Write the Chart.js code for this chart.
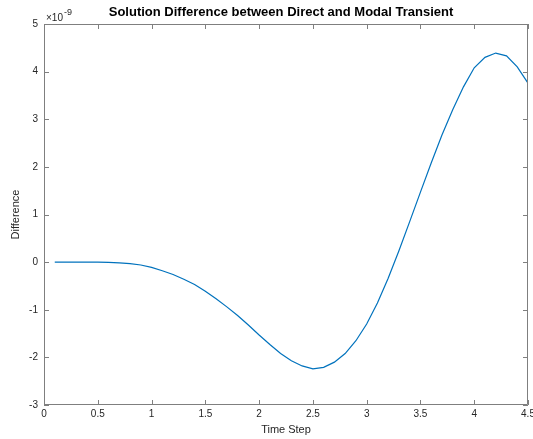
<!DOCTYPE html>
<html>
<head>
<meta charset="utf-8">
<script src="https://cdn.jsdelivr.net/npm/chart.js@4/dist/chart.umd.min.js"></script>
<style>
  html, body { margin: 0; padding: 0; background: #ffffff; }
  #wrap { width: 533px; height: 439px; position: relative; }
</style>
</head>
<body>
<div id="wrap"><canvas id="diff-chart"></canvas></div>
<script>
// time steps (s) and difference values in units of 1e-9
const timeSteps = [
  0.1, 0.2, 0.3, 0.4, 0.5, 0.6, 0.7, 0.8, 0.9, 1.0,
  1.1, 1.2, 1.3, 1.4, 1.5, 1.6, 1.7, 1.8, 1.9, 2.0,
  2.1, 2.2, 2.3, 2.4, 2.5, 2.6, 2.7, 2.8, 2.9, 3.0,
  3.1, 3.2, 3.3, 3.4, 3.5, 3.6, 3.7, 3.8, 3.9, 4.0,
  4.1, 4.2, 4.3, 4.4, 4.5,
];
const differences = [
  0, 0, 0, 0, -0.002, -0.006, -0.014, -0.03, -0.06, -0.11,
  -0.18, -0.26, -0.36, -0.47, -0.61, -0.77, -0.94, -1.12, -1.32, -1.53,
  -1.73, -1.92, -2.07, -2.18, -2.24, -2.21, -2.10, -1.92, -1.65, -1.30,
  -0.86, -0.34, 0.24, 0.85, 1.47, 2.08, 2.67, 3.20, 3.68, 4.08,
  4.30, 4.39, 4.33, 4.10, 3.76,
];
const xTicks = [0, 0.5, 1, 1.5, 2, 2.5, 3, 3.5, 4, 4.5];
const yTicks = [-3, -2, -1, 0, 1, 2, 3, 4, 5];

const chartTitle = 'Solution Difference between Direct and Modal Transient';
const xLabel = 'Time Step';
const yLabel = 'Difference';

const FONT = "'Liberation Sans', Arial, sans-serif";
const AXIS_COLOR = '#7f7f7f';
const TEXT_COLOR = '#262626';

// MATLAB style box with inward ticks, title and exponent label
const matlabFrame = {
  id: 'matlabFrame',
  afterDatasetsDraw(chart) {
    const { ctx, chartArea: area, scales } = chart;
    const tickLen = 5;
    ctx.save();
    ctx.strokeStyle = AXIS_COLOR;
    ctx.lineWidth = 1;
    ctx.beginPath();
    ctx.rect(area.left + 0.5, area.top + 0.5, area.right - area.left - 1, area.bottom - area.top - 1);
    xTicks.forEach((value) => {
      const px = Math.round(scales.x.getPixelForValue(value)) + 0.5;
      ctx.moveTo(px, area.bottom);
      ctx.lineTo(px, area.bottom - tickLen);
      ctx.moveTo(px, area.top);
      ctx.lineTo(px, area.top + tickLen);
    });
    yTicks.forEach((value) => {
      const py = Math.round(scales.y.getPixelForValue(value)) + 0.5;
      ctx.moveTo(area.left, py);
      ctx.lineTo(area.left + tickLen, py);
      ctx.moveTo(area.right, py);
      ctx.lineTo(area.right - tickLen, py);
    });
    ctx.stroke();

    ctx.fillStyle = '#000000';
    ctx.font = `bold 13px ${FONT}`;
    ctx.textAlign = 'center';
    ctx.textBaseline = 'middle';
    ctx.fillText(chartTitle, (area.left + area.right) / 2 - 5, 12);

    ctx.fillStyle = TEXT_COLOR;
    ctx.textAlign = 'left';
    ctx.textBaseline = 'alphabetic';
    ctx.font = `10px ${FONT}`;
    ctx.fillText('\u00d710', area.left + 2, area.top - 3);
    const w = ctx.measureText('\u00d710').width;
    ctx.font = `9px ${FONT}`;
    ctx.fillText('-9', area.left + 3 + w, area.top - 9);
    ctx.restore();
  },
};

new Chart(document.getElementById('diff-chart'), {
  type: 'line',
  data: {
    datasets: [
      {
        label: yLabel,
        data: timeSteps.map((t, i) => ({ x: t, y: differences[i] })),
        borderColor: '#0072bd',
        borderWidth: 1.2,
        pointRadius: 0,
        tension: 0,
        fill: false,
      },
    ],
  },
  options: {
    responsive: true,
    maintainAspectRatio: false,
    animation: false,
    layout: {
      padding: { top: 24, right: 5, left: 0, bottom: 0 },
    },
    plugins: {
      legend: { display: false },
      tooltip: { enabled: false },
    },
    scales: {
      x: {
        type: 'linear',
        min: 0,
        max: 4.5,
        afterFit(scale) {
          scale.height = 34;
          scale.paddingLeft = 0;
          scale.paddingRight = 0;
        },
        afterBuildTicks(scale) { scale.ticks = xTicks.map((value) => ({ value })); },
        grid: { display: false, drawTicks: false },
        border: { display: false },
        ticks: {
          padding: 3,
          color: TEXT_COLOR,
          font: { family: FONT, size: 10 },
          maxRotation: 0,
          autoSkip: false,
          callback(value) { return String(value); },
        },
        title: {
          display: true,
          text: xLabel,
          color: TEXT_COLOR,
          font: { family: FONT, size: 11 },
          padding: { top: 0, bottom: 2 },
        },
      },
      y: {
        type: 'linear',
        min: -3,
        max: 5,
        afterFit(scale) {
          scale.width = 44;
          scale.paddingTop = 0;
          scale.paddingBottom = 0;
        },
        afterBuildTicks(scale) { scale.ticks = yTicks.map((value) => ({ value })); },
        grid: { display: false, drawTicks: false },
        border: { display: false },
        ticks: {
          padding: 6,
          color: TEXT_COLOR,
          font: { family: FONT, size: 10 },
          autoSkip: false,
          callback(value) { return String(value); },
        },
        title: {
          display: true,
          text: yLabel,
          color: TEXT_COLOR,
          font: { family: FONT, size: 11 },
          padding: { top: 9, bottom: 0 },
        },
      },
    },
  },
  plugins: [matlabFrame],
});
</script>
</body>
</html>
